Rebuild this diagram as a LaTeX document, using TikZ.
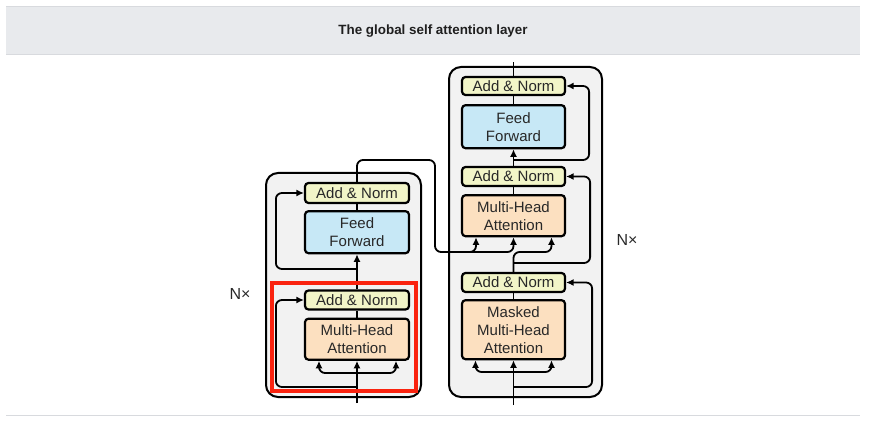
\documentclass[tikz,border=0pt]{standalone}
\usepackage{fontspec}
\setmainfont{Liberation Sans}
\usetikzlibrary{arrows.meta}
\usetikzlibrary{positioning}
\definecolor{hgray}{RGB}{232, 234, 237}
\definecolor{hline}{RGB}{216, 218, 222}
\definecolor{boxgray}{RGB}{242, 242, 242}
\definecolor{anyellow}{RGB}{242, 245, 200}
\definecolor{ffblue}{RGB}{199, 232, 246}
\definecolor{mhorange}{RGB}{252, 224, 192}
\definecolor{tgray}{RGB}{40, 40, 40}
\definecolor{mred}{RGB}{250, 35, 15}
\tikzset{blk/.style = {draw, line width = 2.2pt, rounded corners = 3.5pt,
                       minimum width = 104pt, inner sep = 0pt, align = center,
                       font = \fontsize{15}{18}\selectfont, text = tgray}}
\tikzset{stack/.style = {draw, fill = boxgray, line width = 2pt, rounded corners = 12pt}}
\tikzset{wire/.style = {line width = 1.8pt, rounded corners = 6pt}}
\tikzset{lbl/.style = {font = \fontsize{16}{18}\selectfont, text = tgray}}

\begin{document}
\begin{tikzpicture}[x = 1pt, y = -1pt, >={Latex[length = 7.5pt, width = 7pt]}]
    \useasboundingbox (0, 0) rectangle (870, 422);

    \fill [hgray] (6, 6) rectangle (860, 54);
    \draw [hline] (6, 6) -- (860, 6);
    \draw [hline] (6, 54) -- (860, 54);
    \draw [hline] (6, 415) -- (860, 415);
    \node [font = \bfseries\fontsize{13.4}{15}\selectfont, text = black!88] (title) at (433, 31) {The global self attention layer};

    \draw [stack] (266, 173) rectangle (421, 397);
    \draw [stack] (449, 67) rectangle (602, 397);

    \node [blk, fill = anyellow, minimum height = 20pt] (encAN2) at (357, 193) {Add \& Norm};
    \node [blk, fill = ffblue, minimum height = 42pt, below = 6pt of encAN2] (encFF) {Feed\\Forward};
    \node [blk, fill = anyellow, minimum height = 19pt] (encAN1) at (357, 300) {Add \& Norm};
    \node [blk, fill = mhorange, minimum height = 41pt, below = 7pt of encAN1] (encMHA) {Multi-Head\\Attention};

    \node [blk, fill = anyellow, minimum width = 103pt, minimum height = 18pt] (decAN3) at (513.5, 86) {Add \& Norm};
    \node [blk, fill = ffblue, minimum width = 103pt, minimum height = 43pt, below = 8pt of decAN3] (decFF) {Feed\\Forward};
    \node [blk, fill = anyellow, minimum width = 103pt, minimum height = 19pt] (decAN2) at (513.5, 176.5) {Add \& Norm};
    \node [blk, fill = mhorange, minimum width = 103pt, minimum height = 41pt, below = 7pt of decAN2] (decMHA) {Multi-Head\\Attention};
    \node [blk, fill = anyellow, minimum width = 103pt, minimum height = 19pt] (decAN1) at (513.5, 282.5) {Add \& Norm};
    \node [blk, fill = mhorange, minimum width = 103pt, minimum height = 59pt, below = 6pt of decAN1] (decMMHA) {Masked\\Multi-Head\\Attention};

    \node [lbl] (encN) at (240, 294) {N×};
    \node [lbl] (decN) at (627, 240) {N×};

    \coordinate (encIn) at (357, 403);
    \coordinate (encFork) at (357, 373);
    \coordinate (encSkip1) at (357, 387);
    \coordinate (encSkip2) at (357, 269);
    \coordinate (encTurn) at (435, 160);
    \coordinate (kvLine) at (435, 252);
    \coordinate (kvFork) at (455, 252);
    \coordinate (kIn) at ([xshift = -37.5pt] decMHA.south);
    \coordinate (qIn) at ([xshift = 38pt] decMHA.south);

    \draw [wire, ->] (encIn) -- (encMHA.south);
    \draw [wire, ->] (encFork) -| ([xshift = -38pt] encMHA.south);
    \draw [wire, ->] (encFork) -| ([xshift = 39pt] encMHA.south);
    \draw [wire, ->] (encSkip1) -| ([xshift = -28pt] encAN1.west) -- (encAN1.west);
    \draw [wire] (encMHA.north) -- (encAN1.south);
    \draw [wire, ->] (encAN1.north) -- (encFF.south);
    \draw [wire, ->] (encSkip2) -| ([xshift = -28pt] encAN2.west) -- (encAN2.west);
    \draw [wire] (encFF.north) -- (encAN2.south);
    \draw [wire, ->] (encAN2.north) |- (encTurn) -- (kvLine) -| (decMHA.south);
    \draw [wire, ->] (kvFork) -| (kIn);

    \coordinate (decIn) at (513.5, 405);
    \coordinate (decFork) at (513.5, 372);
    \coordinate (decSkip1) at (513.5, 387);
    \coordinate (decSkip2) at (513.5, 263);
    \coordinate (decSkip3) at (513.5, 160);
    \coordinate (decOut) at (513.5, 62);

    \draw [wire, ->] (decIn) -- (decMMHA.south);
    \draw [wire, ->] (decFork) -| ([xshift = -38pt] decMMHA.south);
    \draw [wire, ->] (decFork) -| ([xshift = 38pt] decMMHA.south);
    \draw [wire, ->] (decSkip1) -| ([xshift = 26pt] decAN1.east) -- (decAN1.east);
    \draw [wire] (decMMHA.north) -- (decAN1.south);
    \draw [wire, ->] (decAN1.north) |- (qIn |- kvLine) -- (qIn);
    \draw [wire, ->] (decSkip2) -| ([xshift = 24pt] decAN2.east) -- (decAN2.east);
    \draw [wire] (decMHA.north) -- (decAN2.south);
    \draw [wire, ->] (decAN2.north) -- (decFF.south);
    \draw [wire, ->] (decSkip3) -| ([xshift = 23pt] decAN3.east) -- (decAN3.east);
    \draw [wire] (decFF.north) -- (decAN3.south);
    \draw [wire] (decAN3.north) -- (decOut);

    \draw [line width = 3.5pt, mred] (272, 283) rectangle (416, 391);
  \end{tikzpicture}
\end{document}
